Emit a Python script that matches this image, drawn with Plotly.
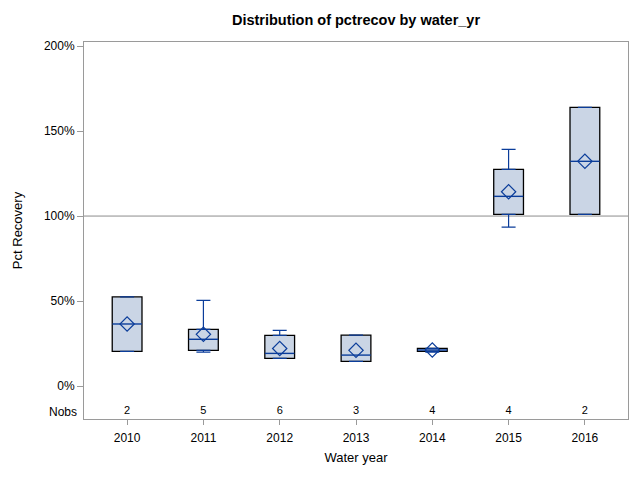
import plotly.graph_objects as go

years = ["2010", "2011", "2012", "2013", "2014", "2015", "2016"]
nobs = [2, 5, 6, 3, 4, 4, 2]
q1 = [20.4, 21.0, 16.3, 14.5, 20.4, 101.0, 101.0]
median = [36.5, 27.5, 19.2, 18.2, 21.2, 111.6, 132.2]
q3 = [52.4, 33.3, 29.8, 30.0, 22.1, 127.5, 163.9]
lower = [20.4, 20.0, 16.3, 14.5, 20.0, 93.5, 101.0]
upper = [52.4, 50.4, 32.7, 30.0, 22.1, 139.2, 163.9]
mean = [36.5, 30.4, 22.1, 21.0, 21.2, 114.3, 132.2]
yticks = [0, 50, 100, 150, 200]
yticklabels = ["0%", "50%", "100%", "150%", "200%"]

BLUE = "#0B3D9A"
FILL = "#CAD5E5"
FRAME = "#9A9A9A"
FONT = "Liberation Sans, Arial, sans-serif"

fig = go.Figure()
# boxes (Q1..Q3)
fig.add_trace(go.Bar(
    x=years, y=[b - a for a, b in zip(q1, q3)], base=q1, width=0.39,
    marker=dict(color=FILL, line=dict(color="black", width=1.3)),
    showlegend=False, hoverinfo="skip",
))
# upper whiskers
fig.add_trace(go.Scatter(
    x=years, y=q3, mode="markers", marker=dict(size=1, color="rgba(0,0,0,0)"),
    error_y=dict(type="data", symmetric=False,
                 array=[u - q for u, q in zip(upper, q3)], arrayminus=[0] * len(years),
                 color=BLUE, thickness=1.2, width=7),
    showlegend=False, hoverinfo="skip",
))
# lower whiskers
fig.add_trace(go.Scatter(
    x=years, y=q1, mode="markers", marker=dict(size=1, color="rgba(0,0,0,0)"),
    error_y=dict(type="data", symmetric=False,
                 array=[0] * len(years), arrayminus=[q - lo for q, lo in zip(q1, lower)],
                 color=BLUE, thickness=1.2, width=7),
    showlegend=False, hoverinfo="skip",
))
# medians
fig.add_trace(go.Scatter(
    x=years, y=median, mode="markers",
    marker=dict(symbol="line-ew", size=21, line=dict(color=BLUE, width=1.4)),
    showlegend=False, hoverinfo="skip",
))
# means
fig.add_trace(go.Scatter(
    x=years, y=mean, mode="markers",
    marker=dict(symbol="diamond-open", size=11, color=BLUE, line=dict(width=1.2, color=BLUE)),
    showlegend=False,
))
# Nobs row
fig.add_trace(go.Scatter(
    x=years, y=[-15] * len(years), mode="text", text=[str(n) for n in nobs],
    textfont=dict(family=FONT, size=11, color="black"), showlegend=False, hoverinfo="skip",
))

fig.add_hline(y=100, line=dict(color="#8C8C8C", width=1), layer="below")

fig.add_annotation(xref="paper", yref="y", x=0, y=-15, text="Nobs", showarrow=False,
                   xanchor="right", xshift=-5, font=dict(family=FONT, size=12, color="black"))

# page body has an 8px offset; size the figure so it ends at the window edge
W, H = 632, 472
l, r, t, b = 76, 12, 34, 61
pw, ph = W - l - r, H - t - b
# right and bottom edges of the image frame
fig.add_shape(type="line", xref="paper", yref="paper",
              x0=1 + (r - 1.5) / pw, x1=1 + (r - 1.5) / pw, y0=-b / ph, y1=1 + t / ph,
              line=dict(color="#C8C8C8", width=1), layer="below")

fig.update_layout(
    width=W, height=H,
    margin=dict(l=l, r=r, t=t, b=b),
    paper_bgcolor="white", plot_bgcolor="white",
    font=dict(family=FONT, size=12, color="black"),
    title=dict(text="<b>Distribution of pctrecov by water_yr</b>", x=0.5, xref="paper",
               xanchor="center", y=1 - 12 / H, yanchor="middle",
               font=dict(family=FONT, size=14.5, color="black")),
    barmode="overlay",
    xaxis=dict(
        type="category", range=[-0.565, 6.565], automargin=False,
        title=dict(text="Water year", font=dict(size=13), standoff=8),
        showline=True, linecolor=FRAME, mirror=True, linewidth=1,
        ticks="outside", ticklen=5, tickcolor=FRAME, showgrid=False, zeroline=False,
        tickfont=dict(size=12), ticklabelstandoff=3,
    ),
    yaxis=dict(
        range=[-19.4, 202.4], tickvals=yticks, ticktext=yticklabels, automargin=False,
        title=dict(text="Pct Recovery", font=dict(size=13), standoff=18),
        showline=True, linecolor=FRAME, mirror=True, linewidth=1,
        ticks="outside", ticklen=6, tickcolor=FRAME, showgrid=False, zeroline=False,
        tickfont=dict(size=12),
    ),
)

fig.write_html("out.html")
